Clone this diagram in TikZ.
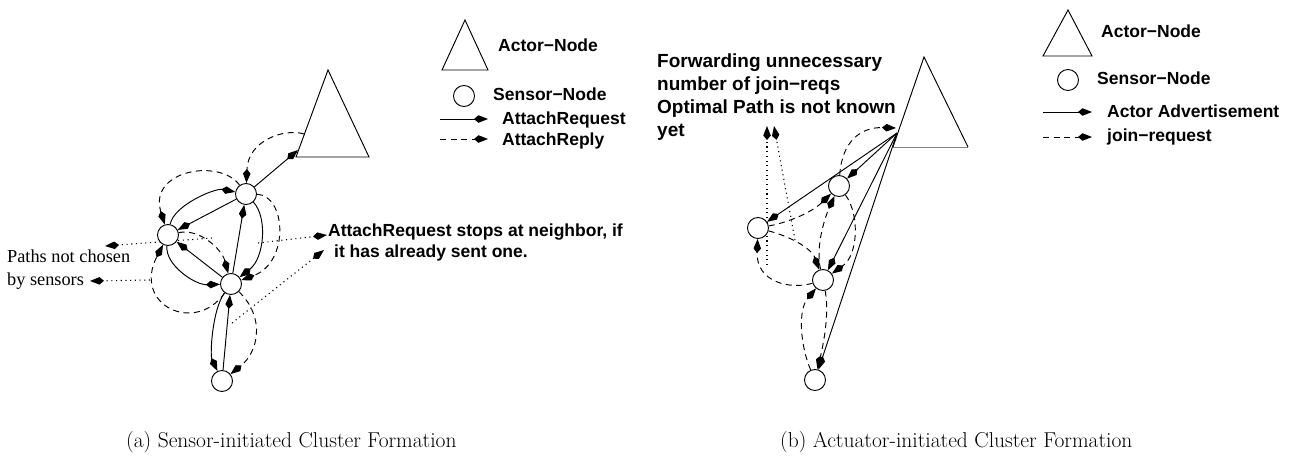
\documentclass[tikz,border=0pt]{standalone}
\usepackage{fontspec}
\newfontfamily\helv{Liberation Sans}
\newfontfamily\tms{Liberation Serif}
\usetikzlibrary{arrows.meta,backgrounds}

\tikzset{
  wire/.style={line width=0.95pt},
  kitehead/.style={-{Kite[length=14pt,width=7.5pt,inset=4.5pt]}},
  sensor/.style={circle,draw,fill=white,line width=0.95pt,minimum size=21pt,inner sep=0pt},
  actorshape/.style={line width=0.95pt,line join=miter},
  reqline/.style={wire,kitehead},
  replyline/.style={wire,kitehead,dash pattern=on 6pt off 4.5pt},
  hintline/.style={wire,kitehead,line width=1.1pt,dash pattern=on 1.1pt off 3.6pt},
  lbl/.style={font=\helv\bfseries\fontsize{17.5}{21}\selectfont,inner sep=0pt,anchor=base west},
  lblbig/.style={font=\helv\bfseries\fontsize{19}{23}\selectfont,inner sep=0pt,anchor=base west},
  serifnote/.style={font=\tms\fontsize{18.3}{22}\selectfont,inner sep=0pt,anchor=base west},
  captext/.style={font=\fontsize{21.5}{26}\selectfont,inner sep=0pt,anchor=base west},
}

\begin{document}
\begin{tikzpicture}[x=1pt,y=-1pt]
\useasboundingbox (0,0) rectangle (1302,464);

% ---------------- (a) sensor-initiated ----------------
% actor
\coordinate (aTop) at (328,70);
\coordinate (aBL) at (296,157);
\coordinate (aBR) at (369,157);
\draw[actorshape] (aTop) -- (aBL) -- (aBR) -- cycle;
\coordinate (aReq) at (298,150);
\coordinate (aRep) at (304,134);

% sensors
\node[sensor] (a1) at (246,194) {};
\node[sensor] (a2) at (168,235) {};
\node[sensor] (a3) at (231,284) {};
\node[sensor] (a4) at (222,381) {};

% free ends of the dotted pointers
\coordinate (aP1s) at (212,238);
\coordinate (aP1e) at (105,246);
\coordinate (aP2s) at (150,280);
\coordinate (aP2e) at (90,281);
\coordinate (aP3s) at (258,243);
\coordinate (aP3e) at (327,235);
\coordinate (aP4s) at (232,323);
\coordinate (aP4e) at (324,250);

\begin{scope}[on background layer]
  % attach requests
  \draw[reqline] (a1) -- (aReq);
  \draw[reqline] (a2) .. controls (174,205) and (215,188) .. (a1);
  \draw[reqline] (a1) -- (a2);
  \draw[reqline] (a3) -- (a1);
  \draw[reqline] (a1) .. controls (268,218) and (264,258) .. (a3);
  \draw[reqline] (a2) .. controls (165,265) and (195,285) .. (a3);
  \draw[reqline] (a3) -- (a2);
  \draw[reqline] (a4) -- (a3);
  \draw[reqline] (a3) .. controls (212,310) and (210,355) .. (a4);
  % attach replies
  \draw[replyline] (aRep) .. controls (285,128) and (248,140) .. (a1);
  \draw[replyline] (a1) .. controls (220,158) and (148,170) .. (a2);
  \draw[replyline] (a1) .. controls (286,195) and (290,262) .. (a3);
  \draw[replyline] (a2) .. controls (200,228) and (222,250) .. (a3);
  \draw[replyline] (a3) .. controls (195,335) and (132,305) .. (a2);
  \draw[replyline] (a3) .. controls (266,318) and (258,352) .. (a4);
  % pointers to the notes
  \draw[hintline] (aP1s) -- (aP1e);
  \draw[hintline] (aP2s) -- (aP2e);
  \draw[hintline] (aP3s) -- (aP3e);
  \draw[hintline] (aP4s) -- (aP4e);
\end{scope}

\node[serifnote] (aNote1) at (7,262) {Paths not chosen};
\node[serifnote] (aNote2) at (7,285) {by sensors};
\node[lbl] (aNote3) at (328,236.5) {AttachRequest stops at neighbor, if};
\node[lbl] (aNote4) at (334,257) {it has already sent one.};

% legend (a)
\draw[actorshape] (465,20) -- (442,70) -- (488,70) -- cycle;
\node[sensor] (aLegS) at (464,96) {};
\coordinate (aLegR1) at (440,119);
\coordinate (aLegR2) at (488,119);
\coordinate (aLegP1) at (440,139);
\coordinate (aLegP2) at (488,139);
\draw[reqline] (aLegR1) -- (aLegR2);
\draw[replyline] (aLegP1) -- (aLegP2);
\node[lbl] (aLegT1) at (498,51.5) {Actor−Node};
\node[lbl] (aLegT2) at (493,100) {Sensor−Node};
\node[lbl] (aLegT3) at (502,124.5) {AttachRequest};
\node[lbl] (aLegT4) at (502,145.5) {AttachReply};

\node[captext] (capA) at (126,447) {(a) Sensor-initiated Cluster Formation};

% ---------------- (b) actuator-initiated ----------------
\coordinate (bTop) at (924,57);
\coordinate (bBL) at (893,147);
\coordinate (bBR) at (968,147);
\draw[actorshape] (bBL) -- (bTop) -- (bBR);
\draw[actorshape,gray] (bBL) -- (bBR);
\coordinate (bHub) at (897,133);
\coordinate (bRep) at (896,128);

\node[sensor] (b1) at (839,186) {};
\node[sensor] (b2) at (758,228) {};
\node[sensor] (b3) at (823,280) {};
\node[sensor] (b4) at (815,380) {};

\coordinate (bP1s) at (767,265);
\coordinate (bP1e) at (767,126);
\coordinate (bP2s) at (795,240);
\coordinate (bP2e) at (774,126);

\begin{scope}[on background layer]
  % actor advertisements
  \draw[reqline] (bHub) -- (b2);
  \draw[reqline] (bHub) -- (b1);
  \draw[reqline] (bHub) -- (b3);
  \draw[reqline] (bHub) -- (b4);
  % join requests
  \draw[replyline] (b1) .. controls (842,140) and (862,127) .. (bRep);
  \draw[replyline] (b2) .. controls (790,222) and (812,212) .. (b1);
  \draw[replyline] (b3) .. controls (815,245) and (826,215) .. (b1);
  \draw[replyline] (b1) .. controls (860,215) and (858,255) .. (b3);
  \draw[replyline] (b2) .. controls (795,238) and (812,250) .. (b3);
  \draw[replyline] (b3) .. controls (790,290) and (756,282) .. (b2);
  \draw[replyline] (b3) .. controls (830,315) and (822,350) .. (b4);
  \draw[replyline] (b4) .. controls (800,345) and (798,310) .. (b3);
  % pointers to the note
  \draw[hintline] (bP1s) -- (bP1e);
  \draw[hintline] (bP2s) -- (bP2e);
\end{scope}

\node[lblbig] (bNote1) at (657,67.3) {Forwarding unnecessary};
\node[lblbig] (bNote2) at (657,90.4) {number of join−reqs};
\node[lblbig] (bNote3) at (657,113.5) {Optimal Path is not known};
\node[lblbig] (bNote4) at (657,136.6) {yet};

% legend (b)
\draw[actorshape] (1068,10) -- (1043,56) -- (1092,56) -- cycle;
\node[sensor] (bLegS) at (1068,80) {};
\coordinate (bLegA1) at (1043,112);
\coordinate (bLegA2) at (1092,112);
\coordinate (bLegJ1) at (1043,137);
\coordinate (bLegJ2) at (1092,137);
\draw[reqline] (bLegA1) -- (bLegA2);
\draw[replyline] (bLegJ1) -- (bLegJ2);
\node[lbl] (bLegT1) at (1101,37) {Actor−Node};
\node[lbl] (bLegT2) at (1097,84) {Sensor−Node};
\node[lbl] (bLegT3) at (1107,117.5) {Actor Advertisement};
\node[lbl] (bLegT4) at (1107,141.5) {join−request};

\node[captext] (capB) at (780,447) {(b) Actuator-initiated Cluster Formation};
\end{tikzpicture}
\end{document}
